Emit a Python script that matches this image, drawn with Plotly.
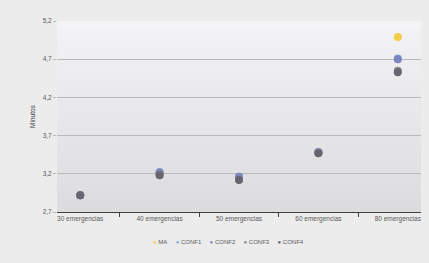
import plotly.graph_objects as go

categories = ["30 emergencias", "40 emergencias", "50 emergencias", "60 emergencias", "80 emergencias"]
series_names = ["MA", "CONF1", "CONF2", "CONF3", "CONF4"]
ma = [2.92, 3.21, 3.15, 3.47, 4.99]
conf1 = [2.92, 3.22, 3.16, 3.49, 4.71]
conf2 = [2.92, 3.22, 3.16, 3.48, 4.70]
conf3 = [2.92, 3.19, 3.13, 3.48, 4.55]
conf4 = [2.92, 3.18, 3.12, 3.47, 4.53]
y_ticks = [2.7, 3.2, 3.7, 4.2, 4.7, 5.2]

colors = ["#f3cc4a", "#8ea9d8", "#7d86c4", "#8a8a92", "#66666e"]
values = [ma, conf1, conf2, conf3, conf4]

fig = go.Figure()
for name, vals, col in zip(series_names, values, colors):
    fig.add_trace(go.Scatter(
        x=categories, y=vals, mode="markers", name=name,
        marker=dict(color=col, size=8, line=dict(width=0)),
    ))

# gradient background bands for plot area
n = 24
shapes = []
for i in range(n):
    t = i / (n - 1)
    c = int(244 - t * (244 - 220))
    shapes.append(dict(type="rect", xref="paper", yref="paper",
                       x0=0, x1=1, y0=1 - (i + 1) / n, y1=1 - i / n,
                       fillcolor=f"rgb({c},{c},{c+2})", line=dict(width=0), layer="below"))

# compact legend built as text
legend_text = "&nbsp;&nbsp;&nbsp;&nbsp;&nbsp;".join(
    f"<span style='color:{c}'>●</span> {nm}" for nm, c in zip(series_names, colors)
)

fig.update_layout(
    width=429, height=263,
    margin=dict(l=57, r=8, t=21, b=51, autoexpand=False),
    paper_bgcolor="#ececec",
    plot_bgcolor="rgba(0,0,0,0)",
    separators=",.",
    shapes=shapes,
    font=dict(family="Liberation Sans, Arial, sans-serif", size=6.5, color="#595959"),
    showlegend=False,
    annotations=[dict(text=legend_text, xref="paper", yref="paper", x=0.47, y=-0.13,
                      xanchor="center", yanchor="top", showarrow=False,
                      font=dict(size=6, color="#595959"))],
    xaxis=dict(
        type="category", showgrid=False, showline=True, linecolor="#404040", linewidth=1,
        ticks="outside", tickson="boundaries", ticklen=4, tickcolor="#404040",
        tickfont=dict(size=6.5, color="#595959"), automargin=False,
    ),
    yaxis=dict(
        range=[2.7, 5.2], tickvals=y_ticks, tickformat=".1f", automargin=False,
        showgrid=True, gridcolor="#b8b8b8", gridwidth=1, zeroline=False,
        showline=False, ticks="outside", ticklen=3, tickcolor="#b8b8b8",
        tickfont=dict(size=6.5, color="#595959"),
        title=dict(text="Minutos", font=dict(size=6.5, color="#404040"), standoff=6),
    ),
)

fig.write_html("out.html", config={"displayModeBar": False},
               post_script="document.body.style.margin='0';")
